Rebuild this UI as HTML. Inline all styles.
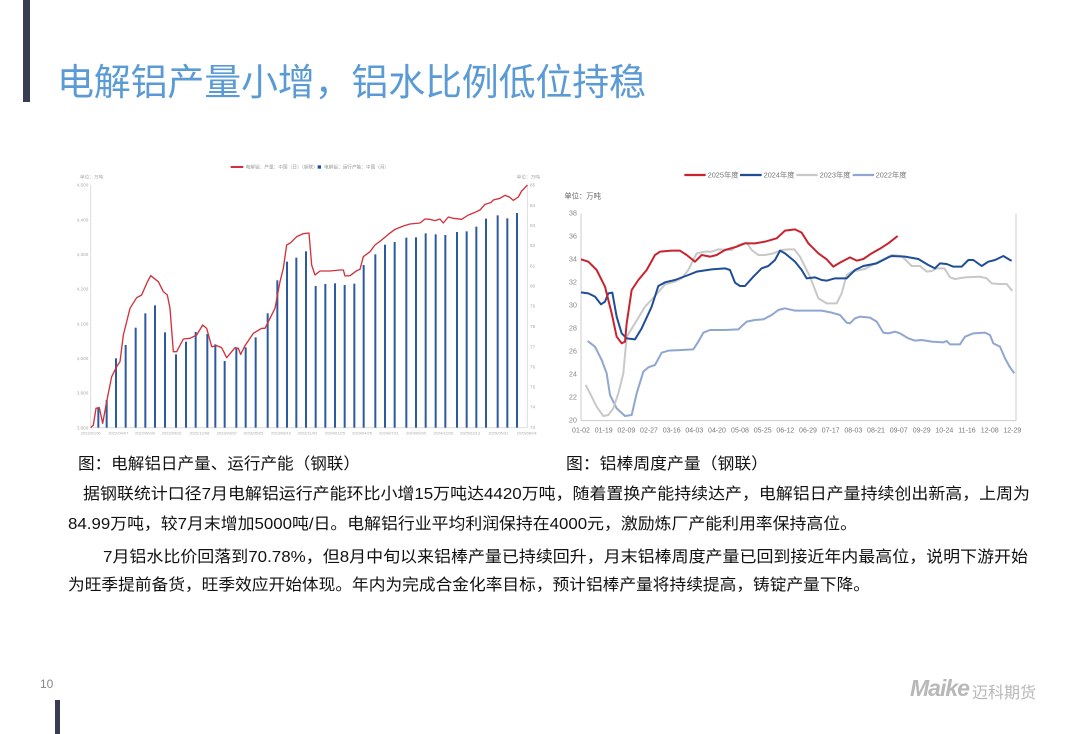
<!DOCTYPE html>
<html><head><meta charset="utf-8"><style>
html,body{margin:0;padding:0;background:#fff;}
body{width:1080px;height:734px;position:relative;overflow:hidden;font-family:"Liberation Sans","Noto Sans CJK SC",sans-serif;}
.abs{position:absolute;}
</style></head><body>
<div class="abs" style="left:23px;top:0;width:7px;height:102px;background:#3a3b55"></div>
<div class="abs" style="left:55px;top:700px;width:5px;height:34px;background:#3a3b55"></div>
<div class="abs" style="left:57px;top:52px;font-size:37px;color:#5b9bd5;font-family:'Noto Sans CJK SC',sans-serif;white-space:nowrap;letter-spacing:-0.2px;">电解铝产量小增，铝水比例低位持稳</div>
<div class="abs" style="left:40px;top:677px;font-size:12px;color:#888">10</div>
<div class="abs" style="left:910px;top:675px;font-size:23px;font-weight:900;font-style:italic;color:#b8b8b8;letter-spacing:-1px">Maike</div>
<div class="abs" style="left:972px;top:679px;font-size:16px;color:#b8b8b8;font-family:'Noto Sans CJK SC',sans-serif">迈科期货</div>

<!-- left chart -->
<svg class="abs" style="left:70px;top:155px" width="480" height="290" viewBox="0 0 1440 870">
<g stroke="#ddd" stroke-width="3"><line x1="62" y1="90" x2="62" y2="818"/><line x1="62" y1="818" x2="1372" y2="818"/><line x1="1372" y1="90" x2="1372" y2="818"/></g>
<g font-size="14" fill="#aaa" text-anchor="end">
<text x="55" y="95">4,500</text><text x="55" y="199">4,400</text><text x="55" y="303">4,300</text><text x="55" y="407">4,200</text><text x="55" y="511">4,100</text><text x="55" y="615">4,000</text><text x="55" y="719">3,900</text><text x="55" y="823">3,800</text>
</g>
<g font-size="14" fill="#aaa"><text x="1380" y="95">85</text><text x="1380" y="156">84</text><text x="1380" y="216">83</text><text x="1380" y="276">82</text><text x="1380" y="337">81</text><text x="1380" y="398">80</text><text x="1380" y="458">79</text><text x="1380" y="519">78</text><text x="1380" y="580">77</text><text x="1380" y="640">76</text><text x="1380" y="700">75</text><text x="1380" y="761">74</text><text x="1380" y="822">73</text>
<text x="30" y="70">单位：万吨</text><text x="1340" y="70">单位：万吨</text></g>
<g font-size="12" fill="#aaa" text-anchor="middle">
<text x="62" y="838">2022/01/06</text><text x="145" y="838">2022/04/07</text><text x="225" y="838">2022/06/30</text><text x="305" y="838">2022/09/22</text><text x="388" y="838">2022/12/08</text><text x="470" y="838">2023/03/02</text><text x="550" y="838">2023/05/25</text><text x="633" y="838">2023/08/10</text><text x="712" y="838">2023/11/02</text><text x="795" y="838">2024/01/25</text><text x="876" y="838">2024/04/25</text><text x="957" y="838">2024/07/11</text><text x="1038" y="838">2024/09/30</text><text x="1120" y="838">2024/12/26</text><text x="1200" y="838">2025/03/13</text><text x="1285" y="838">2025/05/31</text><text x="1370" y="838">2025/08/04</text>
</g>
<line x1="482" y1="36" x2="520" y2="36" stroke="#d0313c" stroke-width="6"/><text x="527" y="41" font-size="14" fill="#999">电解铝：产量：中国（日）（钢联）</text>
<rect x="743" y="31" width="10" height="10" fill="#1f4e96"/><text x="762" y="41" font-size="14" fill="#999">电解铝：运行产能：中国（月）</text>
<g fill="#2c5aa0">
<rect x="82" y="757" width="6" height="61"/><rect x="107" y="735" width="6" height="83"/><rect x="135" y="610" width="6" height="208"/><rect x="164" y="570" width="6" height="248"/><rect x="194" y="518" width="6" height="300"/><rect x="223" y="475" width="6" height="343"/><rect x="252" y="451" width="6" height="367"/><rect x="282" y="532" width="6" height="286"/><rect x="315" y="598" width="6" height="220"/><rect x="345" y="560" width="6" height="258"/><rect x="374" y="531" width="6" height="287"/><rect x="409" y="537" width="6" height="281"/><rect x="433" y="568" width="6" height="250"/><rect x="461" y="618" width="6" height="200"/><rect x="496" y="580" width="6" height="238"/><rect x="524" y="577" width="6" height="241"/><rect x="554" y="547" width="6" height="271"/><rect x="590" y="475" width="6" height="343"/><rect x="619" y="376" width="6" height="442"/><rect x="648" y="320" width="6" height="498"/><rect x="676" y="308" width="6" height="510"/><rect x="705" y="289" width="6" height="529"/><rect x="734" y="393" width="6" height="425"/><rect x="763" y="387" width="6" height="431"/><rect x="792" y="385" width="6" height="433"/><rect x="821" y="390" width="6" height="428"/><rect x="850" y="386" width="6" height="432"/><rect x="878" y="330" width="6" height="488"/><rect x="913" y="298" width="6" height="520"/><rect x="942" y="269" width="6" height="549"/><rect x="971" y="261" width="6" height="557"/><rect x="1006" y="248" width="6" height="570"/><rect x="1035" y="247" width="6" height="571"/><rect x="1064" y="235" width="6" height="583"/><rect x="1094" y="238" width="6" height="580"/><rect x="1123" y="240" width="6" height="578"/><rect x="1158" y="231" width="6" height="587"/><rect x="1187" y="229" width="6" height="589"/><rect x="1216" y="215" width="6" height="603"/><rect x="1245" y="191" width="6" height="627"/><rect x="1280" y="181" width="6" height="637"/><rect x="1309" y="190" width="6" height="628"/><rect x="1338" y="174" width="6" height="644"/>
</g>
<polyline fill="none" stroke="#d0313c" stroke-width="4" stroke-linejoin="round" points="62,818 70,810 78,760 88,758 98,805 110,740 125,665 140,635 150,620 160,540 180,460 200,428 215,420 230,385 242,362 265,380 280,410 292,420 300,460 310,590 320,590 340,552 360,550 380,540 398,510 410,520 425,575 440,572 455,578 470,608 495,578 505,580 512,598 525,572 550,535 575,520 585,520 600,490 615,460 630,380 640,340 650,270 662,263 680,245 700,236 717,234 725,330 735,360 750,348 780,348 810,345 820,345 825,363 840,362 860,347 870,343 880,305 900,290 915,270 935,255 955,238 975,223 1000,213 1020,207 1050,204 1065,192 1080,193 1095,197 1110,192 1120,204 1135,186 1150,190 1175,193 1195,180 1215,172 1230,165 1245,148 1262,143 1270,135 1290,130 1305,121 1318,126 1330,136 1345,126 1355,108 1365,98 1372,90"/>
</svg>

<!-- right chart -->
<svg class="abs" style="left:555px;top:160px" width="470" height="280" viewBox="0 0 1410 840">
<g stroke="#ccc" stroke-width="3"><line x1="78" y1="160" x2="78" y2="782"/><line x1="78" y1="782" x2="1383" y2="782"/><line x1="1383" y1="160" x2="1383" y2="782"/></g>
<g font-size="22" fill="#888" text-anchor="end">
<text x="66" y="167">38</text><text x="66" y="236">36</text><text x="66" y="305">34</text><text x="66" y="374">32</text><text x="66" y="443">30</text><text x="66" y="512">28</text><text x="66" y="581">26</text><text x="66" y="650">24</text><text x="66" y="719">22</text><text x="66" y="788">20</text></g>
<text x="28" y="115" font-size="22" fill="#666">单位：万吨</text>
<g font-size="21" fill="#777" text-anchor="middle">
<text x="78" y="818">01-02</text><text x="146" y="818">01-19</text><text x="214" y="818">02-09</text><text x="282" y="818">02-27</text><text x="350" y="818">03-16</text><text x="418" y="818">04-03</text><text x="486" y="818">04-20</text><text x="555" y="818">05-08</text><text x="623" y="818">05-25</text><text x="691" y="818">06-12</text><text x="759" y="818">06-29</text><text x="827" y="818">07-17</text><text x="895" y="818">08-03</text><text x="963" y="818">08-21</text><text x="1031" y="818">09-07</text><text x="1100" y="818">09-29</text><text x="1168" y="818">10-24</text><text x="1236" y="818">11-16</text><text x="1304" y="818">12-08</text><text x="1372" y="818">12-29</text></g>
<g font-size="22" fill="#777">
<line x1="388" y1="45" x2="452" y2="45" stroke="#c8232f" stroke-width="7"/><text x="458" y="53">2025年度</text>
<line x1="555" y1="45" x2="620" y2="45" stroke="#1f4e96" stroke-width="7"/><text x="626" y="53">2024年度</text>
<line x1="724" y1="45" x2="788" y2="45" stroke="#c8c8c8" stroke-width="7"/><text x="794" y="53">2023年度</text>
<line x1="893" y1="45" x2="957" y2="45" stroke="#8fa6d0" stroke-width="7"/><text x="962" y="53">2022年度</text></g>
<g fill="none" stroke-width="6" stroke-linejoin="round">
<polyline stroke="#8fa6d0" points="98,543 120,560 140,600 155,640 165,705 185,745 210,768 230,765 245,700 265,635 280,622 300,615 320,578 340,572 380,570 415,568 430,545 445,518 465,510 510,510 550,508 575,485 600,480 625,478 650,465 670,450 690,445 720,452 760,452 800,452 830,458 855,465 875,488 885,490 900,475 915,470 945,473 965,485 985,518 1000,520 1020,515 1035,520 1060,535 1080,542 1100,540 1130,545 1165,547 1175,543 1185,553 1215,553 1230,530 1255,520 1290,518 1305,525 1315,550 1335,560 1350,595 1365,622 1378,640"/>
<polyline stroke="#c8c8c8" points="92,675 105,700 125,740 145,768 160,765 175,745 190,700 205,640 215,530 240,490 270,440 300,408 330,373 360,365 380,355 400,330 425,280 450,275 470,275 490,268 530,270 550,255 575,248 590,270 610,285 630,285 655,280 680,270 700,268 718,268 735,290 765,350 790,415 815,430 845,430 860,400 875,345 890,335 930,327 970,305 1010,285 1040,288 1070,318 1095,318 1115,335 1130,333 1145,325 1168,325 1185,352 1200,357 1230,352 1275,350 1295,355 1310,370 1330,372 1355,372 1372,393"/>
<polyline stroke="#1f4e96" points="78,397 100,400 120,410 138,433 150,425 160,400 172,398 185,470 200,520 215,535 240,538 260,505 290,440 310,378 330,367 360,360 400,345 425,335 470,328 510,325 525,330 540,368 555,378 570,378 595,350 620,325 640,318 660,300 675,272 690,280 720,305 740,330 755,355 780,352 800,360 815,362 840,355 875,355 900,330 925,318 965,310 1000,292 1010,288 1050,290 1090,297 1120,315 1140,325 1155,310 1175,312 1195,320 1220,320 1240,300 1255,300 1280,318 1300,305 1320,300 1345,288 1365,300 1370,302"/>
<polyline stroke="#c8232f" points="78,298 100,305 125,330 150,380 170,460 185,530 200,550 210,545 215,490 230,390 250,360 275,330 300,285 315,275 350,272 375,272 395,285 420,305 440,285 465,290 485,285 510,270 545,260 570,250 600,250 630,245 665,235 690,212 720,208 740,218 760,250 790,280 815,298 835,320 855,308 885,292 905,302 925,297 950,280 975,266 1000,250 1028,228"/>
</g>
</svg>

<!-- text block -->
<svg class="abs" style="left:0;top:440px" width="1080" height="160">
<g font-family="Liberation Sans, Noto Sans CJK SC, sans-serif" fill="#111" font-size="16">
<text x="78" y="29" textLength="282" lengthAdjust="spacingAndGlyphs">图：电解铝日产量、运行产能（钢联）</text>
<text x="566" y="29" textLength="202" lengthAdjust="spacingAndGlyphs">图：铝棒周度产量（钢联）</text>
<text x="83" y="59" textLength="947" lengthAdjust="spacingAndGlyphs">据钢联统计口径7月电解铝运行产能环比小增15万吨达4420万吨，随着置换产能持续达产，电解铝日产量持续创出新高，上周为</text>
<text x="68" y="89" textLength="789" lengthAdjust="spacingAndGlyphs">84.99万吨，较7月末增加5000吨/日。电解铝行业平均利润保持在4000元，激励炼厂产能利用率保持高位。</text>
<text x="103" y="122" textLength="925" lengthAdjust="spacingAndGlyphs">7月铝水比价回落到70.78%，但8月中旬以来铝棒产量已持续回升，月末铝棒周度产量已回到接近年内最高位，说明下游开始</text>
<text x="68" y="150" textLength="802" lengthAdjust="spacingAndGlyphs">为旺季提前备货，旺季效应开始体现。年内为完成合金化率目标，预计铝棒产量将持续提高，铸锭产量下降。</text>
</g>
</svg>
</body></html>
